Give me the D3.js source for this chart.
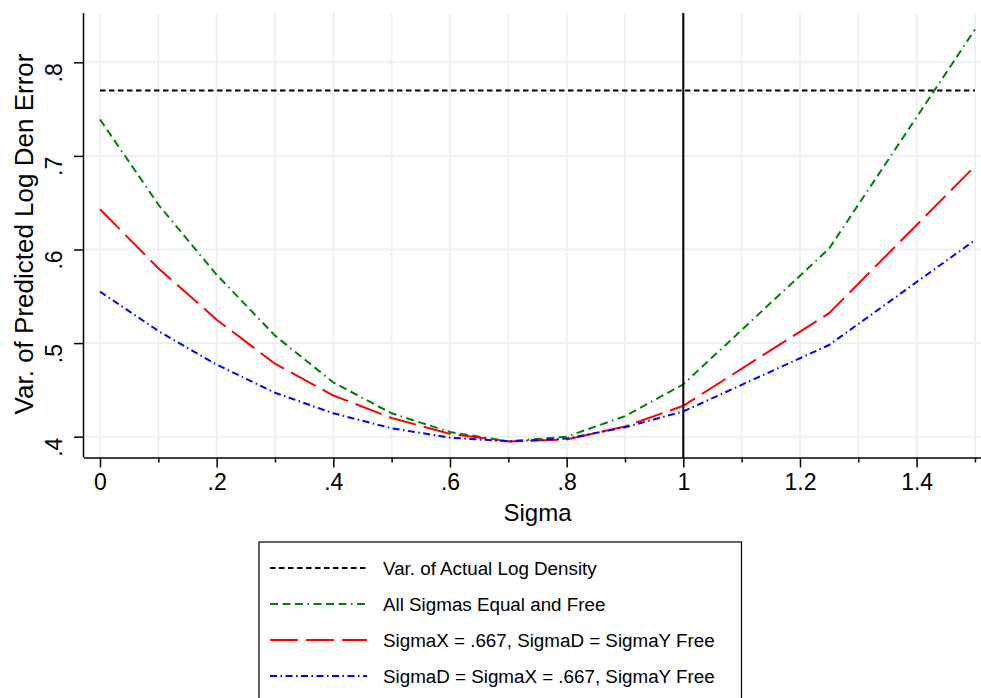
<!DOCTYPE html>
<html><head><meta charset="utf-8">
<script src="https://cdn.jsdelivr.net/npm/d3@7"></script>
<style>
body{margin:0;background:#fff;}
text{font-family:"Liberation Sans",Arial,Helvetica,sans-serif;fill:#000;}
</style></head>
<body><svg id="c" width="981" height="698"></svg>
<script>
const sigma = [0, .1, .2, .3, .4, .5, .6, .7, .8, .9, 1, 1.25, 1.5];
const allEqual = [.739, .648, .573, .508, .458, .425, .405, .395, .400, .422, .456, .601, .835];
const sigmaXFixed = [.643, .580, .525, .478, .444, .420, .403, .395, .397, .411, .433, .532, .689];
const sigmaDXFixed = [.555, .513, .477, .447, .425, .409, .399, .395, .398, .410, .427, .498, .610];
const actualVar = .770;
const xTicks = [0, .2, .4, .6, .8, 1, 1.2, 1.4];
const xMinor = [.1, .3, .5, .7, .9, 1.1, 1.3, 1.5];
const yTicks = [.4, .5, .6, .7, .8];
const xTickLabels = ["0", ".2", ".4", ".6", ".8", "1", "1.2", "1.4"];
const yTickLabels = [".4", ".5", ".6", ".7", ".8"];
const legendLabels = ["Var. of Actual Log Density", "All Sigmas Equal and Free",
  "SigmaX = .667, SigmaD = SigmaY Free", "SigmaD = SigmaX = .667, SigmaY Free"];

const svg = d3.select("#c");
const L = 84, R = 981, T = 13, B = 457.5;
const x = d3.scaleLinear().domain([0, 1]).range([100, 683.3]);
const y = d3.scaleLinear().domain([.4, .8]).range([436.7, 62.3]);

// grid
const gridColor = "#eaf2f3";
const g = svg.append("g");
g.selectAll(".vg").data(xTicks.concat(xMinor)).join("line")
  .attr("x1", d => x(d)).attr("x2", d => x(d)).attr("y1", T).attr("y2", B)
  .attr("stroke", gridColor).attr("stroke-width", 2);
g.selectAll(".hg").data(yTicks).join("line")
  .attr("x1", L).attr("x2", R).attr("y1", d => y(d)).attr("y2", d => y(d))
  .attr("stroke", gridColor).attr("stroke-width", 2);

// axes
const xAxis = d3.axisBottom(x).tickValues(xTicks).tickSize(10).tickPadding(6)
  .tickFormat((d, i) => xTickLabels[i]);
const gx = svg.append("g").attr("transform", `translate(0,${B})`).call(xAxis);
gx.select(".domain").attr("d", `M${L},0.5H${R}`).attr("stroke-width", 1.5);
gx.selectAll(".tick line").attr("stroke-width", 1.5);
gx.selectAll("text").attr("font-size", 23).attr("font-family", "Liberation Sans, Arial, sans-serif");
const xAxisMinor = d3.axisBottom(x).tickValues(xMinor).tickSize(5).tickFormat("");
const gxm = svg.append("g").attr("transform", `translate(0,${B})`).call(xAxisMinor);
gxm.select(".domain").remove();
gxm.selectAll(".tick line").attr("stroke-width", 1.5);

const yAxis = d3.axisLeft(y).tickValues(yTicks).tickSize(10).tickPadding(0)
  .tickFormat((d, i) => yTickLabels[i]);
const gy = svg.append("g").attr("transform", `translate(${L},0)`).call(yAxis);
gy.select(".domain").attr("d", `M-0.5,${T}V${B}`).attr("stroke-width", 1.5);
gy.selectAll(".tick line").attr("stroke-width", 1.5);
gy.selectAll("text").attr("font-size", 23).attr("font-family", "Liberation Sans, Arial, sans-serif")
  .attr("text-anchor", "middle").attr("dy", 0)
  .attr("transform", "translate(-22,0) rotate(-90)");

// axis titles
svg.append("text").attr("x", x(.75)).attr("y", 521).attr("text-anchor", "middle")
  .attr("font-size", 24).text("Sigma");
svg.append("text").attr("transform", `translate(33,${234}) rotate(-90)`)
  .attr("text-anchor", "middle").attr("font-size", 26).text("Var. of Predicted Log Den Error");

// series
const styles = [
  {color: "#000", dash: "5.5,3.5", w: 2},
  {color: "#008000", dash: "8,4.5,8,4.5,8,4.5,1.5,4.5", w: 2},
  {color: "#ff0000", dash: "28,8", w: 2},
  {color: "#0000ff", dash: "7,3.5,1.5,3.5", w: 2}
];
svg.append("line").attr("x1", x(0)).attr("x2", x(1.5)).attr("y1", y(actualVar)).attr("y2", y(actualVar))
  .attr("stroke", styles[0].color).attr("stroke-width", styles[0].w).attr("stroke-dasharray", styles[0].dash);
const line = d3.line().x(d => x(d[0])).y(d => y(d[1]));
[allEqual, sigmaXFixed, sigmaDXFixed].forEach((s, i) => {
  const st = styles[i + 1];
  svg.append("path").datum(sigma.map((v, j) => [v, s[j]])).attr("d", line)
    .attr("fill", "none").attr("stroke", st.color).attr("stroke-width", st.w)
    .attr("stroke-dasharray", st.dash).attr("stroke-linejoin", "round");
});
// vertical reference line
svg.append("line").attr("x1", x(1)).attr("x2", x(1)).attr("y1", T).attr("y2", B)
  .attr("stroke", "#000").attr("stroke-width", 2);

// legend
const lg = svg.append("g");
lg.append("rect").attr("x", 259).attr("y", 542).attr("width", 482.5).attr("height", 170)
  .attr("fill", "#fff").attr("stroke", "#000").attr("stroke-width", 1.2);
const rows = [568, 604, 640, 676];
legendLabels.forEach((lab, i) => {
  lg.append("line").attr("x1", 270).attr("x2", 367).attr("y1", rows[i]).attr("y2", rows[i])
    .attr("stroke", styles[i].color).attr("stroke-width", styles[i].w).attr("stroke-dasharray", styles[i].dash);
  lg.append("text").attr("x", 383).attr("y", rows[i]).attr("dy", "0.35em")
    .attr("font-size", 18.8).text(lab);
});
</script></body></html>
